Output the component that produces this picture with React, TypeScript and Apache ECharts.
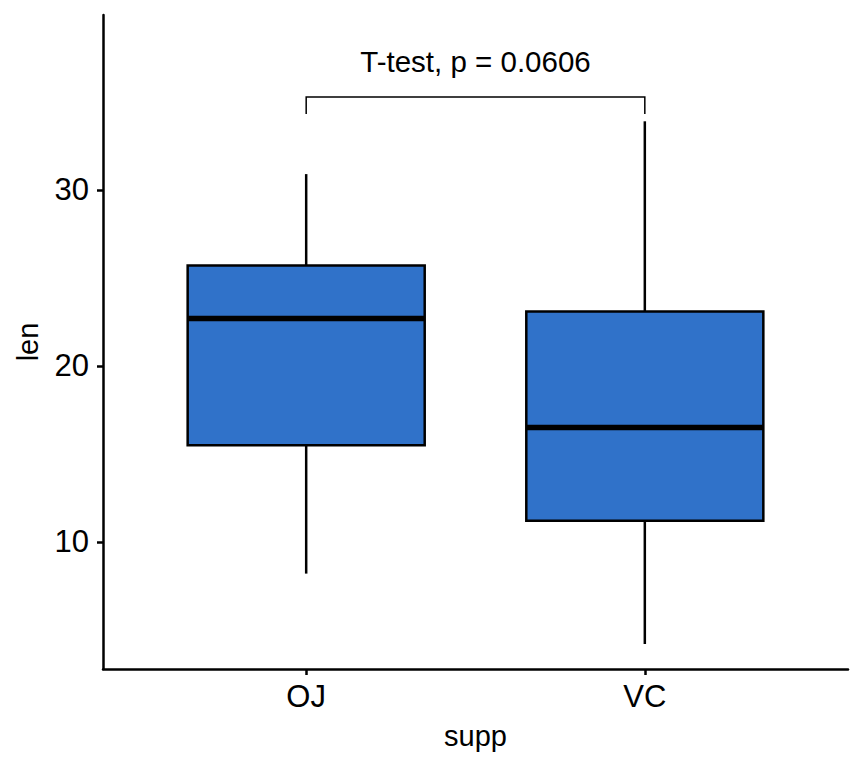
import React, { useEffect, useRef } from "react";
import * as echarts from "echarts";

const categories = ["OJ", "VC"];
const mins = [8.2, 4.2];
const q1s = [15.5, 11.2];
const medians = [22.7, 16.5];
const q3s = [25.7, 23.1];
const maxs = [30.9, 33.9];
const yTicks = [10, 20, 30];
const xTicks = [1, 2];
const testLabel = "T-test, p = 0.0606";
const bracketTop = 35.28;
const bracketEnd = 34.32;
const labelY = 37.27;

const FONT = "'Liberation Sans', Arial, Helvetica, sans-serif";
const FILL = "#3072C9";

export default function App() {
  const ref = useRef<HTMLDivElement>(null);
  useEffect(() => {
    if (!ref.current) return;
    const chart = echarts.init(ref.current, null, { renderer: "svg" });
    const boxData = categories.map((_, i) => [i + 1, mins[i], q1s[i], medians[i], q3s[i], maxs[i]]);
    const option: any = {
      animation: false,
      backgroundColor: "#ffffff",
      grid: { left: 103, right: 16, top: 15, bottom: 99, outerBoundsMode: "none", containLabel: false },
      xAxis: {
        type: "value",
        min: 0.4,
        max: 2.6,
        name: "supp",
        nameLocation: "middle",
        nameGap: 52,
        nameTextStyle: { fontSize: 29, color: "#000", fontFamily: FONT },
        axisLine: { show: true, lineStyle: { color: "#000", width: 2.5 } },
        axisTick: { show: true, length: 6, customValues: xTicks, lineStyle: { color: "#000", width: 2.5 } },
        axisLabel: {
          fontSize: 31,
          color: "#000",
          fontFamily: FONT,
          margin: 12,
          customValues: xTicks,
          formatter: (v: number) => categories[Math.round(v) - 1] ?? "",
        },
        splitLine: { show: false },
      },
      yAxis: {
        type: "value",
        min: 2.78,
        max: 39.94,
        name: "len",
        nameLocation: "middle",
        nameGap: 61,
        nameTextStyle: { fontSize: 29, color: "#000", fontFamily: FONT },
        axisLine: { show: true, lineStyle: { color: "#000", width: 2.5 } },
        axisTick: { show: true, length: 6, customValues: yTicks, lineStyle: { color: "#000", width: 2.5 } },
        axisLabel: { fontSize: 31, color: "#000", fontFamily: FONT, margin: 14, customValues: yTicks },
        splitLine: { show: false },
      },
      series: [
        {
          type: "custom",
          data: boxData,
          encode: { x: 0, y: [1, 2, 3, 4, 5] },
          renderItem: (params: any, api: any) => {
            const x = api.value(0);
            const pMin = api.coord([x, api.value(1)]);
            const pQ1 = api.coord([x, api.value(2)]);
            const pMed = api.coord([x, api.value(3)]);
            const pQ3 = api.coord([x, api.value(4)]);
            const pMax = api.coord([x, api.value(5)]);
            const half = api.size([0.35, 0])[0];
            const cx = pMed[0];
            const lineStyle = { stroke: "#000", lineWidth: 2.5 };
            return {
              type: "group",
              children: [
                { type: "line", shape: { x1: cx, y1: pMax[1], x2: cx, y2: pQ3[1] }, style: lineStyle },
                { type: "line", shape: { x1: cx, y1: pMin[1], x2: cx, y2: pQ1[1] }, style: lineStyle },
                {
                  type: "rect",
                  shape: { x: cx - half, y: pQ3[1], width: half * 2, height: pQ1[1] - pQ3[1] },
                  style: { fill: FILL, stroke: "#000", lineWidth: 2.5 },
                },
                {
                  type: "line",
                  shape: { x1: cx - half, y1: pMed[1], x2: cx + half, y2: pMed[1] },
                  style: { stroke: "#000", lineWidth: 5.5 },
                },
              ],
            };
          },
        },
        {
          type: "custom",
          data: [[1, 2, bracketTop, bracketEnd, labelY]],
          encode: { x: [0, 1], y: [2, 3, 4] },
          renderItem: (params: any, api: any) => {
            const pL = api.coord([api.value(0), api.value(2)]);
            const pR = api.coord([api.value(1), api.value(2)]);
            const pEnd = api.coord([api.value(0), api.value(3)]);
            const pT = api.coord([api.value(0), api.value(4)]);
            return {
              type: "group",
              children: [
                {
                  type: "polyline",
                  shape: { points: [[pL[0], pEnd[1]], [pL[0], pL[1]], [pR[0], pR[1]], [pR[0], pEnd[1]]] },
                  style: { stroke: "#000", lineWidth: 1.5, fill: null },
                },
                {
                  type: "text",
                  x: (pL[0] + pR[0]) / 2,
                  y: pT[1],
                  style: {
                    text: testLabel,
                    fontSize: 29.5,
                    fontFamily: FONT,
                    fill: "#000",
                    align: "center",
                    verticalAlign: "middle",
                  },
                },
              ],
            };
          },
        },
      ],
    };
    chart.setOption(option);
    return () => chart.dispose();
  }, []);
  return (
    <div
      ref={ref}
      style={{ position: "absolute", left: 0, top: 0, width: 864, height: 768, background: "#fff" }}
    />
  );
}
